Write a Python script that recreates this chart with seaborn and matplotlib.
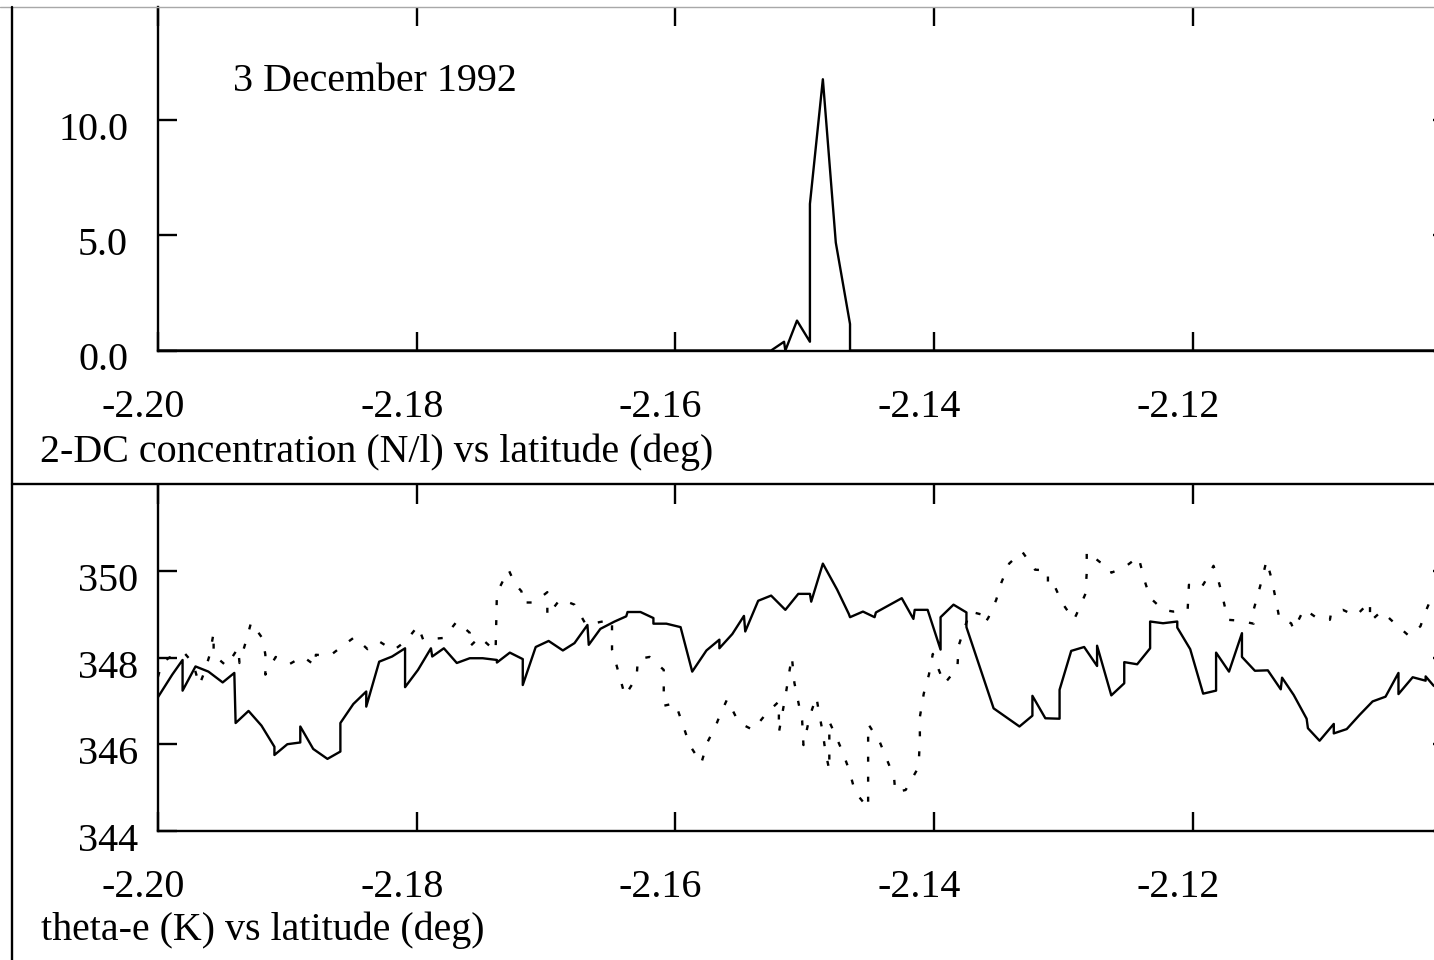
import matplotlib
matplotlib.use("Agg")
import matplotlib.pyplot as plt
import seaborn as sns
from matplotlib.transforms import ScaledTranslation
from matplotlib.lines import Line2D

# ---------------- data ----------------
conc_lat = [-2.2000, -2.1526, -2.1516, -2.1515, -2.1506, -2.1496, -2.1496,
            -2.1486, -2.1476, -2.1465, -2.1465, -2.1000]
conc_val = [0.0, 0.0, 0.38, 0.0, 1.30, 0.38, 6.37, 11.79, 4.69, 1.15, 0.0, 0.0]

solid_lat = [
    -2.2000, -2.1989, -2.1981, -2.1981, -2.1971, -2.1961, -2.1950, -2.1941, -2.1940, -2.1930,
    -2.1920, -2.1910, -2.1910, -2.1900, -2.1890, -2.1890, -2.1880, -2.1869, -2.1859, -2.1859,
    -2.1849, -2.1839, -2.1839, -2.1829, -2.1819, -2.1809, -2.1809, -2.1799, -2.1789, -2.1788,
    -2.1779, -2.1769, -2.1759, -2.1749, -2.1738, -2.1738, -2.1728, -2.1718, -2.1718, -2.1708,
    -2.1698, -2.1687, -2.1678, -2.1668, -2.1667, -2.1658, -2.1647, -2.1638, -2.1637, -2.1627,
    -2.1617, -2.1617, -2.1607, -2.1596, -2.1587, -2.1576, -2.1566, -2.1566, -2.1556, -2.1547,
    -2.1546, -2.1536, -2.1526, -2.1515, -2.1505, -2.1496, -2.1495, -2.1486, -2.1475, -2.1466,
    -2.1465, -2.1455, -2.1446, -2.1445, -2.1425, -2.1416, -2.1415, -2.1405, -2.1395, -2.1395,
    -2.1385, -2.1375, -2.1375, -2.1354, -2.1334, -2.1324, -2.1324, -2.1314, -2.1303, -2.1303,
    -2.1294, -2.1284, -2.1274, -2.1274, -2.1263, -2.1253, -2.1253, -2.1243, -2.1233, -2.1233,
    -2.1223, -2.1212, -2.1212, -2.1202, -2.1192, -2.1182, -2.1182, -2.1172, -2.1162, -2.1162,
    -2.1152, -2.1142, -2.1132, -2.1131, -2.1122, -2.1112, -2.1111, -2.1102, -2.1091, -2.1091,
    -2.1081, -2.1071, -2.1061, -2.1051, -2.1041, -2.1041, -2.1030, -2.1020, -2.1020, -2.1014,
    -2.1009]
solid_theta = [
    347.09, 347.61, 347.95, 347.24, 347.80, 347.68, 347.43, 347.65, 346.49, 346.77,
    346.43, 345.94, 345.75, 346.00, 346.04, 346.41, 345.89, 345.66, 345.83, 346.49,
    346.93, 347.22, 346.87, 347.91, 348.03, 348.22, 347.32, 347.72, 348.22, 348.03,
    348.22, 347.88, 347.99, 347.99, 347.95, 347.89, 348.12, 347.97, 347.37, 348.25,
    348.39, 348.17, 348.34, 348.76, 348.30, 348.67, 348.84, 348.96, 349.06, 349.06,
    348.92, 348.79, 348.79, 348.71, 347.68, 348.17, 348.42, 348.22, 348.55, 348.97,
    348.61, 349.32, 349.44, 349.11, 349.48, 349.48, 349.30, 350.18, 349.58, 349.02,
    348.94, 349.07, 348.94, 349.05, 349.38, 348.90, 349.11, 349.11, 348.19, 348.94,
    349.23, 349.05, 348.71, 346.83, 346.41, 346.66, 347.12, 346.60, 346.59, 347.26,
    348.16, 348.25, 347.81, 348.28, 347.13, 347.41, 347.90, 347.85, 348.22, 348.84,
    348.80, 348.84, 348.70, 348.20, 347.17, 347.24, 348.12, 347.68, 348.57, 348.02,
    347.70, 347.71, 347.27, 347.54, 347.14, 346.59, 346.37, 346.08, 346.47, 346.25,
    346.35, 346.68, 346.99, 347.10, 347.65, 347.16, 347.55, 347.47, 347.57, 347.36,
    347.26]

dotted_lat = [
    -2.2000, -2.1997, -2.1991, -2.1979, -2.1973, -2.1968, -2.1964, -2.1960, -2.1957, -2.1957,
    -2.1947, -2.1938, -2.1937, -2.1932, -2.1928, -2.1919, -2.1917, -2.1917, -2.1909, -2.1898,
    -2.1888, -2.1878, -2.1878, -2.1867, -2.1858, -2.1848, -2.1838, -2.1829, -2.1818, -2.1808,
    -2.1799, -2.1795, -2.1779, -2.1769, -2.1759, -2.1759, -2.1751, -2.1749, -2.1739, -2.1738,
    -2.1729, -2.1724, -2.1719, -2.1719, -2.1709, -2.1699, -2.1699, -2.1689, -2.1678, -2.1669,
    -2.1658, -2.1649, -2.1649, -2.1647, -2.1639, -2.1630, -2.1629, -2.1620, -2.1609, -2.1609,
    -2.1600, -2.1594, -2.1589, -2.1580, -2.1575, -2.1569, -2.1566, -2.1560, -2.1551, -2.1540,
    -2.1530, -2.1520, -2.1520, -2.1515, -2.1510, -2.1508, -2.1505, -2.1502, -2.1501, -2.1496,
    -2.1491, -2.1489, -2.1486, -2.1484, -2.1481, -2.1481, -2.1477, -2.1471, -2.1466, -2.1461,
    -2.1451, -2.1451, -2.1442, -2.1437, -2.1431, -2.1430, -2.1422, -2.1419, -2.1412, -2.1411,
    -2.1411, -2.1408, -2.1404, -2.1401, -2.1398, -2.1392, -2.1382, -2.1381, -2.1377, -2.1372,
    -2.1363, -2.1361, -2.1358, -2.1352, -2.1348, -2.1342, -2.1332, -2.1322, -2.1312, -2.1312,
    -2.1308, -2.1301, -2.1292, -2.1290, -2.1283, -2.1282, -2.1282, -2.1272, -2.1264, -2.1263,
    -2.1253, -2.1242, -2.1241, -2.1237, -2.1233, -2.1223, -2.1215, -2.1204, -2.1203, -2.1194,
    -2.1191, -2.1184, -2.1181, -2.1177, -2.1173, -2.1164, -2.1153, -2.1153, -2.1151, -2.1147,
    -2.1143, -2.1139, -2.1136, -2.1133, -2.1124, -2.1122, -2.1114, -2.1104, -2.1094, -2.1093,
    -2.1084, -2.1074, -2.1063, -2.1063, -2.1054, -2.1044, -2.1033, -2.1024, -2.1020, -2.1014,
    -2.1009]
dotted_theta = [
    347.56, 347.88, 348.01, 348.09, 347.88, 347.37, 347.68, 348.07, 348.58, 348.07,
    347.81, 348.23, 347.88, 348.38, 348.82, 348.44, 348.07, 347.61, 348.02, 347.86,
    348.03, 347.81, 348.07, 348.05, 348.26, 348.48, 348.20, 348.38, 348.17, 348.40,
    348.74, 348.42, 348.46, 348.84, 348.58, 348.26, 348.49, 348.42, 348.15, 349.50,
    350.04, 349.71, 349.54, 349.28, 349.28, 349.52, 348.97, 349.36, 349.23, 348.76,
    348.83, 348.88, 348.19, 347.99, 347.12, 347.55, 347.97, 348.02, 347.72, 346.89,
    346.95, 346.43, 345.98, 345.56, 346.06, 346.41, 346.64, 347.04, 346.50, 346.33,
    346.70, 346.99, 346.27, 347.10, 348.03, 347.42, 346.98, 346.54, 345.98, 346.66,
    347.10, 346.73, 346.26, 345.82, 345.40, 346.52, 346.26, 345.84, 345.43, 344.89,
    344.52, 346.47, 346.05, 345.68, 345.24, 344.89, 344.94, 345.10, 345.47, 346.12,
    346.63, 347.17, 347.61, 348.09, 347.84, 347.40, 347.77, 348.28, 348.65, 349.07,
    349.00, 348.79, 348.93, 349.34, 349.74, 350.18, 350.46, 350.04, 350.02, 349.69,
    349.74, 349.27, 348.88, 349.00, 349.48, 349.97, 350.46, 350.22, 350.11, 349.97,
    350.09, 350.34, 350.22, 349.76, 349.39, 349.11, 349.07, 349.10, 349.69, 349.60,
    349.74, 350.13, 349.88, 349.42, 348.88, 348.86, 348.79, 349.11, 349.32, 349.76,
    350.25, 349.82, 349.37, 348.90, 348.80, 348.65, 349.13, 348.92, 348.88, 349.05,
    349.11, 348.97, 349.30, 348.84, 349.08, 348.80, 348.51, 348.73, 349.07, 349.50,
    349.69]

x_ticks = [-2.20, -2.18, -2.16, -2.14, -2.12]
x_ticklabels = ["-2.20", "-2.18", "-2.16", "-2.14", "-2.12"]
top_yticks = [0.0, 5.0, 10.0]
top_yticklabels = ["0.0", "5.0", "10.0"]
bot_yticks = [344, 346, 348, 350]
bot_yticklabels = ["344", "346", "348", "350"]

date_text = "3 December 1992"
top_title = "2-DC concentration (N/l) vs latitude (deg)"
bot_title = "theta-e (K) vs latitude (deg)"

# ---------------- style ----------------
sns.set_style("white")
plt.rcParams['font.family'] = ['Liberation Serif', 'DejaVu Serif']

W, H = 1434, 960
fig = plt.figure(figsize=(W / 100, H / 100), dpi=100)
fig.patch.set_facecolor("white")


def rect(l, t, r, b):
    return [l / W, 1 - b / H, (r - l) / W, (b - t) / H]


ax1 = fig.add_axes(rect(158, 7, 1451.5, 350.5))
ax2 = fig.add_axes(rect(158, 485, 1451.5, 830.6))

LW = 1.7
FS = 28.8

sns.lineplot(x=conc_lat, y=conc_val, ax=ax1, color="black", linewidth=LW,
             sort=False, estimator=None)
sns.lineplot(x=solid_lat, y=solid_theta, ax=ax2, color="black", linewidth=LW,
             sort=False, estimator=None)
sns.lineplot(x=dotted_lat, y=dotted_theta, ax=ax2, color="black", linewidth=LW,
             sort=False, estimator=None, linestyle=(0, (2.12, 6.35)))

ax1.set_xlim(-2.20, -2.10)
ax1.set_ylim(0, 14.93)
ax2.set_xlim(-2.20, -2.10)
ax2.set_ylim(344, 352)

for ax, yt, ytl, ypad in ((ax1, top_yticks, top_yticklabels, 21.6),
                          (ax2, bot_yticks, bot_yticklabels, 14.4)):
    ax.set_facecolor("none")
    ax.set_xlabel("")
    ax.set_ylabel("")
    ax.set_xticks(x_ticks, x_ticklabels)
    ax.set_yticks(yt, ytl)
    for s in ("top", "right"):
        ax.spines[s].set_visible(False)
    for s in ("left", "bottom"):
        ax.spines[s].set_color("black")
        ax.spines[s].set_linewidth(LW)
    ax.tick_params(axis="both", direction="in", length=13.5, width=LW,
                   color="black", labelcolor="black", labelsize=FS,
                   top=True, right=True, bottom=True, left=True)
    ax.tick_params(axis="x", pad=28)
    ax.tick_params(axis="y", pad=ypad)
    for lbl in ax.get_xticklabels():
        lbl.set_transform(lbl.get_transform() +
                          ScaledTranslation(-0.15, 0, fig.dpi_scale_trans))
    for lbl in ax.get_yticklabels():
        lbl.set_transform(lbl.get_transform() +
                          ScaledTranslation(0, -0.06, fig.dpi_scale_trans))

# frame lines of the page
fig.add_artist(Line2D([0, 1], [1 - 7 / H, 1 - 7 / H], color="#a8a8a8", lw=1.0,
                      transform=fig.transFigure))
fig.add_artist(Line2D([12 / W, 12 / W], [1 - 7 / H, 0], color="black", lw=LW,
                      transform=fig.transFigure))
fig.add_artist(Line2D([12 / W, 1], [1 - 484 / H, 1 - 484 / H], color="black",
                      lw=LW, transform=fig.transFigure))

fig.text(233 / W, 1 - 90.7 / H, date_text, fontsize=FS, ha="left",
         va="baseline", color="black")
fig.text(40 / W, 1 - 462 / H, top_title, fontsize=FS, ha="left",
         va="baseline", color="black")
fig.text(41 / W, 1 - 940 / H, bot_title, fontsize=FS, ha="left",
         va="baseline", color="black")

fig.savefig("out.png", dpi=100, facecolor="white")
